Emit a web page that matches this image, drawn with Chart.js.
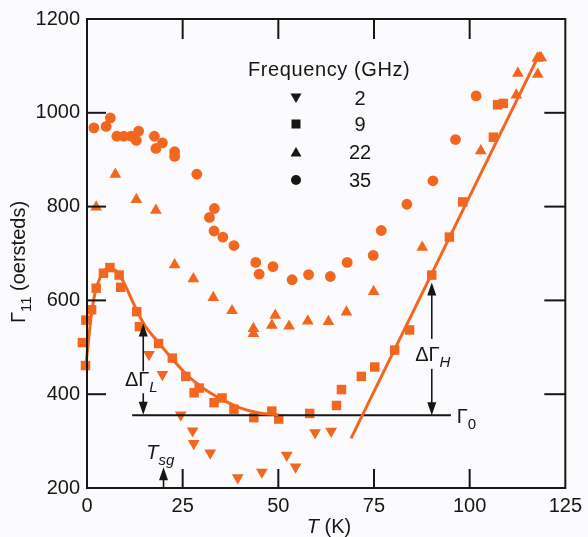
<!DOCTYPE html>
<html>
<head>
<meta charset="utf-8">
<script src="https://cdn.jsdelivr.net/npm/chart.js@4.4.1/dist/chart.umd.min.js"></script>
<style>
  body { margin: 0; background: #fbfbfd; }
  #wrap { width: 588px; height: 537px; position: relative; }
</style>
</head>
<body>
<div id="wrap"><canvas id="gammaChart"></canvas></div>
<script>
// Données : T (K) et Gamma_11 (oersteds)
const t2 = [16.2, 19.7, 24.5, 27.6, 27.9, 32.2, 39.4, 45.7, 52.2, 54.5, 59.6, 63.8];
const g2 = [485, 442, 356, 322, 295, 275, 222, 234, 270, 245, 318, 321];

// les trois premiers points sont juste à gauche de l'axe (T < 0)
const t9 = [-0.3, -2.0, -1.2, -0.4, 1.2, 2.4, 4.3, 6.0, 8.4, 8.8, 13.0, 13.7, 18.7, 22.3, 25.8, 28.0, 29.3, 33.2, 35.3, 38.4,
            43.6, 48.3, 50.1, 58.2, 65.2, 66.5, 71.7, 75.2, 80.4, 84.3, 90.1, 94.7, 98.2, 106.2, 107.3, 108.8];
const g9 = [558, 484, 510, 461, 580, 626, 658, 670, 654, 628, 576, 544, 508, 477, 438, 403, 413, 382, 392, 368,
            350, 364, 347, 359, 376, 410, 438, 458, 494, 537, 654, 735, 810, 948, 1017, 1020];

const t22 = [2.4, 7.4, 12.9, 18.0, 22.9, 27.8, 33.0, 37.9, 43.5, 43.5, 48.3, 49.2, 52.8, 57.7, 63.1, 67.8, 74.9, 87.6,
             102.9, 112.2, 112.6, 117.7, 118.7, 117.8];
const g22 = [799, 869, 815, 792, 676, 646, 606, 578, 540, 529, 547, 568, 545, 556, 555, 575, 619, 713,
             919, 1038, 1084, 1116, 1117, 1082];

const t35 = [1.8, 5.0, 6.1, 7.8, 9.6, 11.5, 12.9, 13.5, 17.6, 18.0, 19.7, 22.9, 22.9, 28.7, 33.3, 32.0, 33.2, 35.5, 38.4,
             44.1, 48.6, 45.0, 53.6, 57.9, 63.6, 68.0, 74.8, 76.9, 83.6, 90.4, 96.3, 101.7];
const g35 = [968, 971, 989, 950, 950, 950, 941, 961, 950, 924, 936, 917, 907, 869, 796, 777, 748, 735, 717,
             681, 672, 656, 644, 655, 651, 681, 696, 749, 805, 855, 943, 1036];

// courbes tracées à la main sur la figure
const lowFitT = [-0.2, 1, 2, 3.5, 5.5, 7.5, 9.5, 12, 15, 18.5, 22, 26, 30, 35, 40, 45, 50];
const lowFitV = [468, 560, 612, 650, 668, 664, 640, 596, 548, 512, 478, 442, 415, 390, 371, 360, 356];
const hiFitT = [69, 118.5];
const hiFitV = [306, 1130];
const gamma0T = [11.8, 95.1];
const gamma0V = [355, 355];

// flèches : [T, début haut, pointe haut, début bas, pointe bas]
const arrowL = [14.7, 449, 551, 402, 356];
const arrowH = [90.1, 518, 638, 454, 355];
const arrowTsg = [20, 200, 244];

const freqLabels = ['2', '9', '22', '35'];
const xTicks = [0, 25, 50, 75, 100, 125];
const yTicks = [200, 400, 600, 800, 1000, 1200];

const ORANGE = '#f2661f';
const INK = '#161616';
const FONT = '"Liberation Sans", Arial, sans-serif';

const pts = (ts, vs) => ts.map((t, i) => ({ x: t, y: vs[i] }));

function marks(label, ts, vs, style, radius, rotation) {
    return {
        label: label,
        data: pts(ts, vs),
        showLine: false,
        pointStyle: style,
        pointRadius: radius,
        pointRotation: rotation || 0,
        backgroundColor: ORANGE,
        borderColor: ORANGE,
        borderWidth: 0,
        clip: false
    };
}

function fit(ts, vs, color, width, tension) {
    return {
        data: pts(ts, vs),
        showLine: true,
        borderColor: color,
        borderWidth: width,
        pointRadius: 0,
        tension: tension || 0,
        cubicInterpolationMode: tension ? 'monotone' : 'default',
        fill: false,
        clip: false
    };
}

// petits outils de dessin
function seg(ctx, x1, y1, x2, y2) {
    ctx.beginPath(); ctx.moveTo(x1, y1); ctx.lineTo(x2, y2); ctx.stroke();
}
function head(ctx, x, y, dir) { // dir = -1 vers le haut, 1 vers le bas
    ctx.beginPath();
    ctx.moveTo(x, y);
    ctx.lineTo(x - 4.5, y - dir * 13);
    ctx.lineTo(x + 4.5, y - dir * 13);
    ctx.closePath(); ctx.fill();
}
function symbol(ctx, kind, x, y) {
    ctx.beginPath();
    if (kind === 'down') { ctx.moveTo(x - 5.5, y - 4.5); ctx.lineTo(x + 5.5, y - 4.5); ctx.lineTo(x, y + 5); }
    else if (kind === 'up') { ctx.moveTo(x - 5.5, y + 4.5); ctx.lineTo(x + 5.5, y + 4.5); ctx.lineTo(x, y - 5); }
    else if (kind === 'rect') { ctx.rect(x - 4.5, y - 4.5, 9, 9); }
    else { ctx.arc(x, y, 5, 0, Math.PI * 2); }
    ctx.closePath(); ctx.fill();
}
// texte avec indice : parts = [[texte, italique, indice], ...]
function richText(ctx, parts, x, y, align) {
    const widths = parts.map(p => {
        ctx.font = (p[1] ? 'italic ' : '') + (p[2] ? '15px ' : '20px ') + FONT;
        return ctx.measureText(p[0]).width;
    });
    const total = widths.reduce((a, b) => a + b, 0);
    let cx = align === 'center' ? x - total / 2 : x;
    ctx.textAlign = 'left';
    ctx.textBaseline = 'alphabetic';
    parts.forEach((p, i) => {
        ctx.font = (p[1] ? 'italic ' : '') + (p[2] ? '15px ' : '20px ') + FONT;
        ctx.fillText(p[0], cx, y + (p[2] ? 6 : 0));
        cx += widths[i];
    });
}

const decor = {
    id: 'decor',
    afterDatasetsDraw(chart) {
        const { ctx, chartArea: a, scales: { x, y } } = chart;
        ctx.save();
        ctx.strokeStyle = INK;
        ctx.fillStyle = INK;
        ctx.lineWidth = 2;
        ctx.strokeRect(a.left, a.top, a.right - a.left, a.bottom - a.top);

        // graduations vers l'intérieur, sur les quatre côtés
        xTicks.slice(1, -1).forEach(v => {
            const px = x.getPixelForValue(v);
            seg(ctx, px, a.bottom, px, a.bottom - 19);
            seg(ctx, px, a.top, px, a.top + 20);
        });
        yTicks.slice(1, -1).forEach(v => {
            const py = y.getPixelForValue(v);
            seg(ctx, a.left, py, a.left + 19, py);
            seg(ctx, a.right, py, a.right - 21, py);
        });

        // flèches Delta Gamma
        ctx.lineWidth = 1.6;
        [arrowL, arrowH].forEach(ar => {
            const px = x.getPixelForValue(ar[0]);
            const up0 = y.getPixelForValue(ar[1]), upTip = y.getPixelForValue(ar[2]);
            const dn0 = y.getPixelForValue(ar[3]), dnTip = y.getPixelForValue(ar[4]);
            seg(ctx, px, up0, px, upTip + 8); head(ctx, px, upTip, -1);
            seg(ctx, px, dn0, px, dnTip - 8); head(ctx, px, dnTip, 1);
        });
        const tx = x.getPixelForValue(arrowTsg[0]);
        seg(ctx, tx, y.getPixelForValue(arrowTsg[1]), tx, y.getPixelForValue(arrowTsg[2]) + 8);
        head(ctx, tx, y.getPixelForValue(arrowTsg[2]), -1);

        // étiquettes
        richText(ctx, [['\u0394\u0393', false, false], ['L', true, true]],
            x.getPixelForValue(arrowL[0]) - 2, y.getPixelForValue(427) + 4, 'center');
        richText(ctx, [['\u0394\u0393', false, false], ['H', true, true]],
            x.getPixelForValue(arrowH[0]) + 1, y.getPixelForValue(481) + 5, 'center');
        richText(ctx, [['\u0393', false, false], ['0', false, true]],
            x.getPixelForValue(96.6), y.getPixelForValue(349) + 5, 'left');
        richText(ctx, [['T', true, false], ['sg', true, true]],
            x.getPixelForValue(15.5), y.getPixelForValue(272) + 5, 'left');

        // légende
        ctx.font = '20px ' + FONT;
        ctx.textAlign = 'left'; ctx.textBaseline = 'middle';
        ctx.letterSpacing = '0.6px';
        ctx.fillText('Frequency (GHz)', 248, 70);
        ctx.letterSpacing = '0px';
        ['down', 'rect', 'up', 'circle'].forEach((k, i) => {
            const ly = [98, 124, 152, 180][i];
            symbol(ctx, k, 296, ly);
            ctx.textAlign = 'center';
            ctx.fillText(freqLabels[i], 360, ly + 1);
        });

        // titres des axes
        richText(ctx, [['T', true, false], [' (K)', false, false]], 329, 533, 'center');
        ctx.save();
        ctx.translate(25, 262);
        ctx.rotate(-Math.PI / 2);
        richText(ctx, [['\u0393', false, false], ['11', false, true], [' (oersteds)', false, false]], 0, 0, 'center');
        ctx.restore();
        ctx.restore();
    }
};

Chart.defaults.font.family = FONT;
Chart.defaults.font.size = 20;
Chart.defaults.color = INK;

const ctx = document.getElementById('gammaChart').getContext('2d');
window.gammaChart = new Chart(ctx, {
    type: 'scatter',
    data: {
        datasets: [
            fit(lowFitT, lowFitV, ORANGE, 3, 0.4),
            fit(hiFitT, hiFitV, ORANGE, 3),
            fit(gamma0T, gamma0V, INK, 2),
            marks('35', t35, g35, 'circle', 5.4),
            marks('22', t22, g22, 'triangle', 6.8),
            marks('9', t9, g9, 'rect', 6.7),
            marks('2', t2, g2, 'triangle', 6.8, 180)
        ]
    },
    options: {
        responsive: true,
        maintainAspectRatio: false,
        animation: false,
        layout: { padding: { top: 14, right: 20, left: 0, bottom: 0 } },
        plugins: { legend: { display: false }, tooltip: { enabled: false } },
        scales: {
            x: {
                type: 'linear',
                min: 0, max: 125,
                afterFit: s => { s.height = 49; },
                afterBuildTicks: s => { s.ticks = xTicks.map(v => ({ value: v })); },
                grid: { display: false, drawTicks: false },
                border: { display: false },
                ticks: { padding: 6, color: INK, maxRotation: 0, callback: v => String(v) }
            },
            y: {
                min: 200, max: 1200,
                afterFit: s => { s.width = 87; },
                afterBuildTicks: s => { s.ticks = yTicks.map(v => ({ value: v })); },
                grid: { display: false, drawTicks: false },
                border: { display: false },
                ticks: { padding: 7, color: INK, callback: v => String(v) }
            }
        }
    },
    plugins: [decor]
});
</script>
</body>
</html>
